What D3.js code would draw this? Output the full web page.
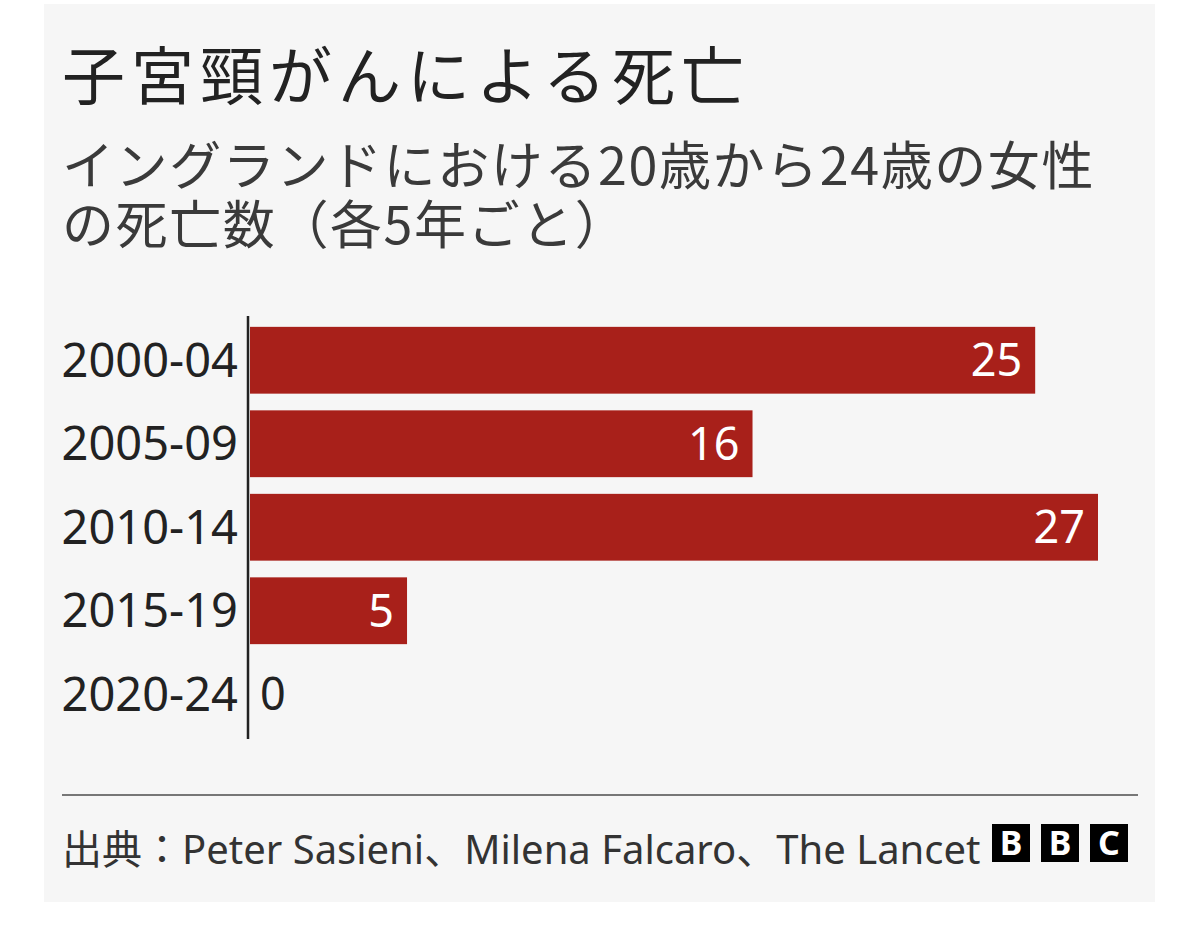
<!DOCTYPE html>
<html>
<head>
<meta charset="utf-8">
<script src="https://cdn.jsdelivr.net/npm/d3@7"></script>
<style>
  html, body { margin: 0; padding: 0; background: #ffffff; }
  svg { display: block; }
</style>
</head>
<body>
<div id="chart"></div>
<script>
const titleText = "子宮頸がんによる死亡";
const subtitleLines = ["イングランドにおける20歳から24歳の女性", "の死亡数（各5年ごと）"];
const categories = ["2000-04", "2005-09", "2010-14", "2015-19", "2020-24"];
const deaths = [25, 16, 27, 5, 0];
const sourceText = "出典：Peter Sasieni、Milena Falcaro、The Lancet";
const logoLetters = ["B", "B", "C"];

const W = 1200, H = 934;
const latin = "'Noto Sans', 'Noto Sans CJK JP', sans-serif";
const cjk = "'Noto Sans CJK JP', 'Noto Sans', sans-serif";
const barColor = "#a8201a";

const svg = d3.select("#chart").append("svg")
  .attr("width", W).attr("height", H);

// panel
svg.append("rect").attr("x", 44).attr("y", 4).attr("width", 1111).attr("height", 898)
  .attr("fill", "#f6f6f6");

// title
svg.append("text").attr("x", 62).attr("y", 99)
  .attr("font-family", cjk).attr("font-size", 63).attr("letter-spacing", 6)
  .attr("fill", "#222").text(titleText);

// subtitle
svg.selectAll("text.sub").data(subtitleLines).join("text")
  .attr("class", "sub")
  .attr("x", 62).attr("y", (d, i) => 185 + i * 59)
  .attr("font-family", cjk).attr("font-size", 52).attr("letter-spacing", 1.6)
  .attr("fill", "#3a3a3a").text(d => d);

// scales
const x = d3.scaleLinear().domain([0, 27]).range([250, 1098]);
const y = d3.scaleBand().domain(categories).range([318.5, 736])
  .paddingInner(0.2).paddingOuter(0.1);

// bars
svg.selectAll("rect.bar").data(categories).join("rect")
  .attr("class", "bar")
  .attr("x", x(0)).attr("y", d => y(d))
  .attr("width", (d, i) => x(deaths[i]) - x(0))
  .attr("height", y.bandwidth())
  .attr("fill", barColor);

// y axis via d3
const yAxis = d3.axisLeft(y).tickSize(0).tickPadding(10);
const gy = svg.append("g").attr("transform", "translate(248,0)").call(yAxis);
gy.select(".domain").remove();
gy.selectAll("text").attr("font-family", latin).attr("font-size", 47)
  .attr("fill", "#222").attr("dy", "0.35em");

// axis line
svg.append("line").attr("x1", 248).attr("x2", 248).attr("y1", 316).attr("y2", 739)
  .attr("stroke", "#222").attr("stroke-width", 2.5);

// value labels
svg.selectAll("text.val").data(categories).join("text")
  .attr("class", "val")
  .attr("x", (d, i) => deaths[i] > 2 ? x(deaths[i]) - 13 : x(deaths[i]) + 10)
  .attr("y", d => y(d) + y.bandwidth() / 2)
  .attr("dy", "0.35em")
  .attr("text-anchor", (d, i) => deaths[i] > 2 ? "end" : "start")
  .attr("font-family", latin).attr("font-size", 45)
  .attr("fill", (d, i) => deaths[i] > 2 ? "#ffffff" : "#222")
  .text((d, i) => deaths[i]);

// footer separator
svg.append("line").attr("x1", 62).attr("x2", 1138).attr("y1", 795).attr("y2", 795)
  .attr("stroke", "#777").attr("stroke-width", 2);

// source
svg.append("text").attr("x", 62).attr("y", 864)
  .attr("font-family", latin).attr("font-size", 40)
  .attr("fill", "#333").text(sourceText);

// BBC logo
const logo = svg.append("g");
logo.selectAll("rect").data(logoLetters).join("rect")
  .attr("x", (d, i) => 992 + i * 49).attr("y", 824)
  .attr("width", 38).attr("height", 38).attr("fill", "#000");
logo.selectAll("text").data(logoLetters).join("text")
  .attr("x", (d, i) => 992 + i * 49 + 19).attr("y", 843)
  .attr("dy", "0.36em").attr("text-anchor", "middle")
  .attr("font-family", latin).attr("font-weight", "bold").attr("font-size", 34)
  .attr("fill", "#fff").text(d => d);
</script>
</body>
</html>
